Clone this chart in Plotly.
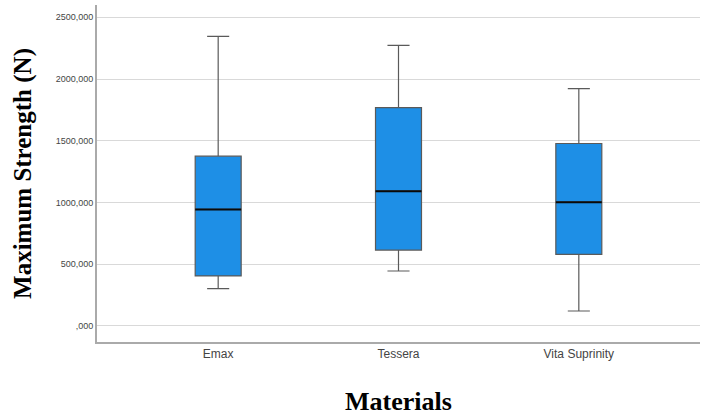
import plotly.graph_objects as go

materials = ["Emax", "Tessera", "Vita Suprinity"]
lower_whisker = [302, 445, 121]
q1 = [405, 615, 580]
median = [944, 1092, 1003]
q3 = [1375, 1769, 1478]
upper_whisker = [2346, 2273, 1923]

tick_vals = [0, 500, 1000, 1500, 2000, 2500]
tick_text = [",000", "500,000", "1000,000", "1500,000", "2000,000", "2500,000"]

positions = list(range(len(materials)))
box_w = 0.255

fig = go.Figure()
fig.add_trace(go.Box(
    x=positions, q1=q1, median=median, q3=q3,
    lowerfence=lower_whisker, upperfence=upper_whisker,
    width=box_w, whiskerwidth=0.48,
    fillcolor="#1e8fe6",
    line=dict(color="#5a5a5a", width=1.2),
    boxpoints=False, showlegend=False, hoverinfo="skip",
))
for i, m in enumerate(median):
    fig.add_trace(go.Scatter(
        x=[positions[i] - box_w / 2, positions[i] + box_w / 2], y=[m, m],
        mode="lines", line=dict(color="#0a0a0a", width=2),
        showlegend=False, hoverinfo="skip",
    ))

serif = "Liberation Serif, DejaVu Serif, serif"
fig.update_layout(
    width=702, height=416,
    margin=dict(l=97, r=2, t=5, b=74),
    paper_bgcolor="white", plot_bgcolor="white",
    font=dict(family="Arial, Liberation Sans, sans-serif", color="#333"),
    xaxis=dict(
        range=[-0.672, 2.672], tickvals=positions, ticktext=materials,
        showgrid=False, zeroline=False,
        showline=True, linecolor="#aaaaaa", linewidth=2,
        ticks="", tickfont=dict(size=12, color="#444"),
        title=dict(text="<b>Materials</b>", font=dict(family=serif, size=26, color="black"), standoff=31),
    ),
    yaxis=dict(
        range=[-130, 2600], tickvals=tick_vals, ticktext=tick_text,
        showgrid=True, gridcolor="#d9d9d9", gridwidth=1, zeroline=False,
        showline=True, linecolor="#aaaaaa", linewidth=2,
        ticks="", tickfont=dict(size=9, color="#444"),
        title=dict(text="<b>Maximum Strength (N)</b>", font=dict(family=serif, size=25, color="black"), standoff=17),
    ),
)

fig.write_html("out.html")
